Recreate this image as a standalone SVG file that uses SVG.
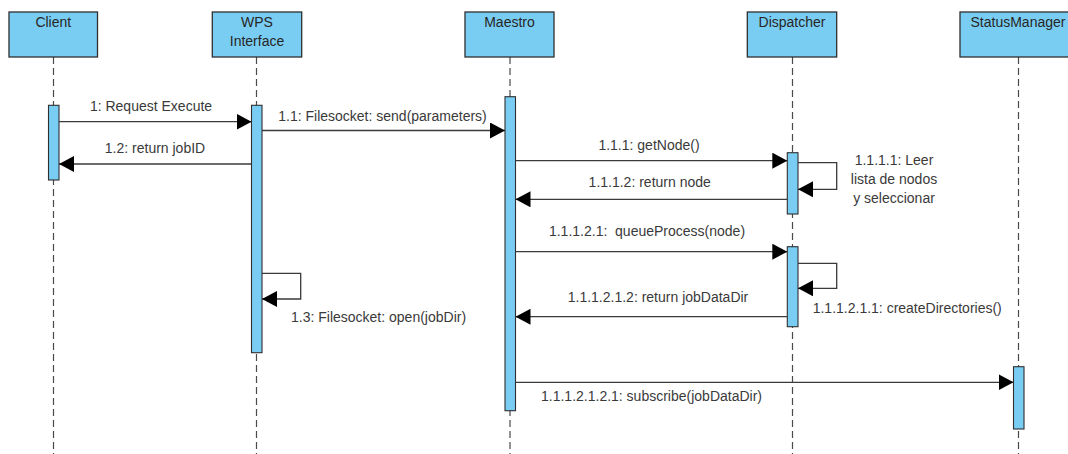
<svg xmlns="http://www.w3.org/2000/svg" width="1068" height="454" viewBox="0 0 1068 454">
  <style>
    .head { fill: #7acdf2; stroke: #2f2f2f; stroke-width: 1.3; }
    .bar { fill: #7acdf2; stroke: #2f2f2f; stroke-width: 1.1; }
    .life { stroke: #4a4a4a; stroke-width: 1.2; stroke-dasharray: 7 4; fill: none; }
    .msg { stroke: #3a3a3a; stroke-width: 1.3; fill: none; marker-end: url(#arrow); }
    text { font-family: "Liberation Sans", Arial, sans-serif; font-size: 14px; fill: #3a3a3a; }
    .title { fill: #262626; text-anchor: middle; }
    .mid { text-anchor: middle; }
  </style>
  <defs>
    <marker id="arrow" markerUnits="userSpaceOnUse" markerWidth="16" markerHeight="17" refX="15" refY="8" orient="auto">
      <path d="M0,0 L15,8 L0,16 Z" fill="#000"/>
    </marker>
  </defs>
  <rect width="1068" height="454" fill="#ffffff"/>

  <!-- Lifeline: Client -->
  <g id="client">
    <line class="life" x1="53.5" y1="57" x2="53.5" y2="454"/>
    <rect class="head" x="9" y="12" width="88.5" height="45"/>
    <text class="title" x="53.3" y="27">Client</text>
    <rect class="bar" x="48.5" y="105.3" width="10.5" height="74.7"/>
  </g>

  <!-- Lifeline: WPS Interface -->
  <g id="wps">
    <line class="life" x1="256.5" y1="57" x2="256.5" y2="454"/>
    <rect class="head" x="212.3" y="12" width="89.4" height="45"/>
    <text class="title" x="257" y="27">WPS</text>
    <text class="title" x="257" y="46">Interface</text>
    <rect class="bar" x="251.5" y="105.3" width="10.5" height="247.4"/>
  </g>

  <!-- Lifeline: Maestro -->
  <g id="maestro">
    <line class="life" x1="510" y1="57" x2="510" y2="454"/>
    <rect class="head" x="465" y="12" width="89" height="45"/>
    <text class="title" x="509.5" y="27">Maestro</text>
    <rect class="bar" x="505" y="96.7" width="10.5" height="314"/>
  </g>

  <!-- Lifeline: Dispatcher -->
  <g id="dispatcher">
    <line class="life" x1="792.5" y1="57" x2="792.5" y2="454"/>
    <rect class="head" x="747.3" y="12" width="89.4" height="45"/>
    <text class="title" x="792" y="27">Dispatcher</text>
    <rect class="bar" x="787.3" y="152.7" width="10.7" height="61.3"/>
    <rect class="bar" x="787.3" y="246.7" width="10.7" height="80"/>
  </g>

  <!-- Lifeline: StatusManager -->
  <g id="statusmanager">
    <line class="life" x1="1018.5" y1="57" x2="1018.5" y2="454"/>
    <rect class="head" x="960" y="12" width="117" height="45"/>
    <text class="title" x="1018" y="27">StatusManager</text>
    <rect class="bar" x="1013.5" y="366.7" width="10.5" height="62.3"/>
  </g>

  <!-- Messages -->
  <g id="messages">
    <line class="msg" x1="59" y1="121.7" x2="251.5" y2="121.7"/>
    <text class="mid" x="151" y="111">1: Request Execute</text>

    <line class="msg" x1="262" y1="130.5" x2="505" y2="130.5"/>
    <text class="mid" x="382.5" y="121">1.1: Filesocket: send(parameters)</text>

    <line class="msg" x1="251.5" y1="164" x2="59" y2="164"/>
    <text class="mid" x="155" y="153.3">1.2: return jobID</text>

    <line class="msg" x1="515.5" y1="160.7" x2="787.3" y2="160.7"/>
    <text class="mid" x="649" y="150">1.1.1: getNode()</text>

    <path class="msg" d="M798,162.7 H836.7 V189.3 H798"/>
    <text class="mid" x="894" y="165">1.1.1.1: Leer</text>
    <text class="mid" x="894" y="184.3">lista de nodos</text>
    <text class="mid" x="894" y="203.3">y seleccionar</text>

    <line class="msg" x1="787.3" y1="199.3" x2="515.5" y2="199.3"/>
    <text class="mid" x="649.7" y="187.3">1.1.1.2: return node</text>

    <line class="msg" x1="515.5" y1="251.7" x2="787.3" y2="251.7"/>
    <text class="mid" x="647" y="236" xml:space="preserve">1.1.1.2.1:  queueProcess(node)</text>

    <path class="msg" d="M798,263.3 H836.7 V288.3 H798"/>
    <text x="812.7" y="313.3">1.1.1.2.1.1: createDirectories()</text>

    <line class="msg" x1="787.3" y1="316.7" x2="515.5" y2="316.7"/>
    <text class="mid" x="658" y="301.7">1.1.1.2.1.2: return jobDataDir</text>

    <path class="msg" d="M262,273.3 H300.7 V299 H262"/>
    <text x="291" y="321.7">1.3: Filesocket: open(jobDir)</text>

    <line class="msg" x1="515.5" y1="382.3" x2="1013.5" y2="382.3"/>
    <text x="541" y="400.5">1.1.1.2.1.2.1: subscribe(jobDataDir)</text>
  </g>
</svg>
